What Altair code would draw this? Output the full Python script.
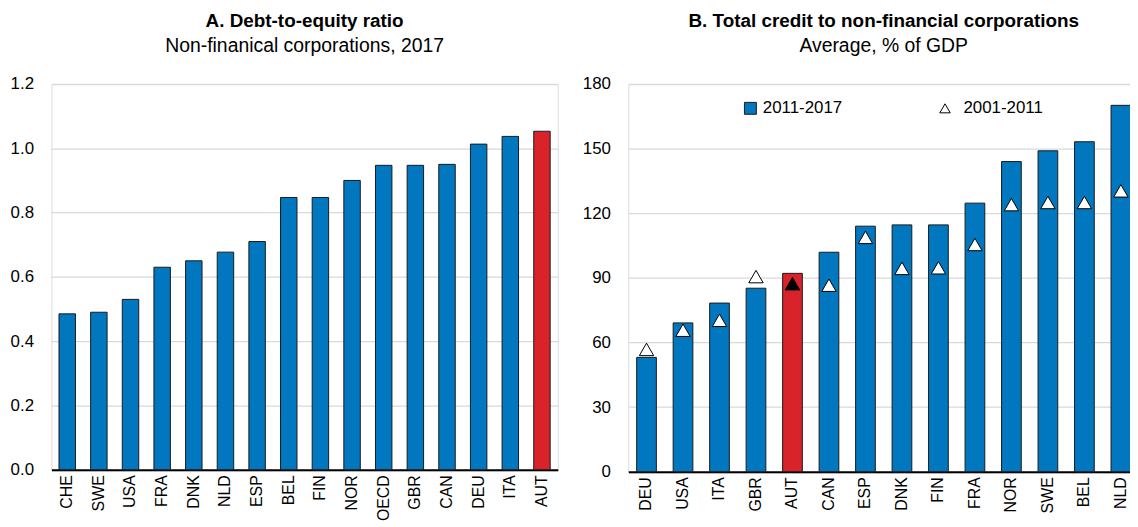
import altair as alt
import pandas as pd

# ---- Panel A data ----
a_countries = ["CHE", "SWE", "USA", "FRA", "DNK", "NLD", "ESP", "BEL",
               "FIN", "NOR", "OECD", "GBR", "CAN", "DEU", "ITA", "AUT"]
a_values = [0.485, 0.49, 0.53, 0.63, 0.65, 0.677, 0.71, 0.847,
            0.847, 0.90, 0.947, 0.947, 0.95, 1.013, 1.037, 1.053]

# ---- Panel B data ----
b_countries = ["DEU", "USA", "ITA", "GBR", "AUT", "CAN", "ESP",
               "DNK", "FIN", "FRA", "NOR", "SWE", "BEL", "NLD"]
b_2011_2017 = [53.1, 69.1, 78.3, 85.2, 92.1, 101.9, 114.0,
               114.6, 114.6, 124.7, 144.0, 149.0, 153.2, 170.1]
b_2001_2011 = [56.8, 65.7, 70.3, 90.6, 87.3, 86.6, 108.8,
               94.4, 94.7, 105.5, 124.0, 125.0, 125.0, 130.4]

FONT = "Liberation Sans, Arial, Helvetica, sans-serif"
BLUE = "#0077BE"
RED = "#D9232B"
STROKE = "#1a1a1a"
GRID = "#D9D9D9"
TICK_FS = 17
XLAB_FS = 16
TITLE_FS = 19
SUB_FS = 19.5

df_a = pd.DataFrame({"country": a_countries, "value": a_values})
df_a["grp_a"] = ["AUT" if c == "AUT" else "other" for c in a_countries]

df_b = pd.DataFrame({"country": b_countries, "v1": b_2011_2017, "v2": b_2001_2011})
df_b["series_b"] = ["AUT" if c == "AUT" else "2011-2017" for c in b_countries]
df_b["series_t"] = "2001-2011"
df_b["fill_t"] = ["AUT" if c == "AUT" else "other" for c in b_countries]


def x_axis():
    return alt.Axis(labelAngle=-90, labelAlign="right", labelBaseline="middle",
                    labelPadding=5, ticks=False, tickSize=0, domain=True,
                    domainColor="black", domainWidth=2, grid=False,
                    labelFontSize=XLAB_FS, labelFont=FONT, labelColor="black", title=None)


def y_axis(values, fmt):
    return alt.Axis(values=values, format=fmt, domain=False, ticks=False, tickSize=0,
                    grid=True, gridColor=GRID, gridWidth=1.3, labelPadding=18,
                    labelFontSize=TICK_FS, labelFont=FONT, labelColor="black", title=None)


def title(text, sub):
    return alt.TitleParams(text, subtitle=sub, font=FONT, fontSize=TITLE_FS, fontWeight="bold",
                           subtitleFont=FONT, subtitleFontSize=SUB_FS, subtitleColor="black",
                           color="black", anchor="middle", subtitlePadding=6, offset=20)


panel_a = alt.Chart(df_a).mark_bar(stroke=STROKE, strokeWidth=1).encode(
    x=alt.X("country:N", sort=a_countries,
            scale=alt.Scale(paddingInner=0.48, paddingOuter=0.24), axis=x_axis()),
    y=alt.Y("value:Q", scale=alt.Scale(domain=[0, 1.2], nice=False),
            axis=y_axis([0, 0.2, 0.4, 0.6, 0.8, 1.0, 1.2], ".1f")),
    color=alt.Color("grp_a:N", scale=alt.Scale(domain=["other", "AUT"], range=[BLUE, RED]),
                    legend=None),
).properties(width=510, height=388.5,
             title=title("A. Debt-to-equity ratio", "Non-finanical corporations, 2017"))

xb = alt.X("country:N", sort=b_countries,
           scale=alt.Scale(paddingInner=0.46, paddingOuter=0.23),
           axis=x_axis())

bars_b = alt.Chart(df_b).mark_bar(stroke=STROKE, strokeWidth=1).encode(
    x=xb,
    y=alt.Y("v1:Q", scale=alt.Scale(domain=[0, 180], nice=False),
            axis=y_axis([0, 30, 60, 90, 120, 150, 180], "d")),
    color=alt.Color("series_b:N",
                    scale=alt.Scale(domain=["2011-2017", "AUT"], range=[BLUE, RED]),
                    legend=alt.Legend(values=["2011-2017"], orient="none", legendX=114.5,
                                      legendY=16, title=None, symbolType="square",
                                      symbolSize=144, symbolStrokeColor=STROKE,
                                      symbolStrokeWidth=1, labelFont=FONT,
                                      labelFontSize=TICK_FS, labelColor="black",
                                      labelOffset=4, padding=0)),
)

tri_b = alt.Chart(df_b).mark_point(filled=True, size=210, stroke="black",
                                   strokeWidth=1, opacity=1).encode(
    x=xb,
    y=alt.Y("v2:Q"),
    shape=alt.Shape("series_t:N", scale=alt.Scale(domain=["2001-2011"], range=["triangle-up"]),
                    legend=alt.Legend(orient="none", legendX=310.5, legendY=16, title=None,
                                      symbolSize=110, symbolFillColor="white",
                                      symbolStrokeColor="black", symbolStrokeWidth=1,
                                      labelFont=FONT, labelFontSize=TICK_FS, labelColor="black",
                                      labelOffset=10, padding=0)),
    fill=alt.Fill("fill_t:N", scale=alt.Scale(domain=["other", "AUT"], range=["white", "black"]),
                  legend=None),
)

panel_b = alt.layer(bars_b, tri_b).properties(
    width=514.5, height=390.5,
    title=title("B. Total credit to non-financial corporations", "Average, % of GDP"))

PAD_LEFT = 43.7
PAD_TOP = 74.7
SVG_W = 1130
SVG_H = 519
chart = alt.hconcat(panel_a, panel_b, spacing=23).resolve_scale(
    color="independent", shape="independent", fill="independent"
).properties(
    autosize=alt.AutoSizeParams(type="none"),
    padding={"left": PAD_LEFT, "top": PAD_TOP,
             "right": SVG_W - PAD_LEFT, "bottom": SVG_H - PAD_TOP}
).configure_view(stroke=None).configure(font=FONT, background="white")

chart.save("out.html", embed_options={"renderer": "svg", "actions": False})
